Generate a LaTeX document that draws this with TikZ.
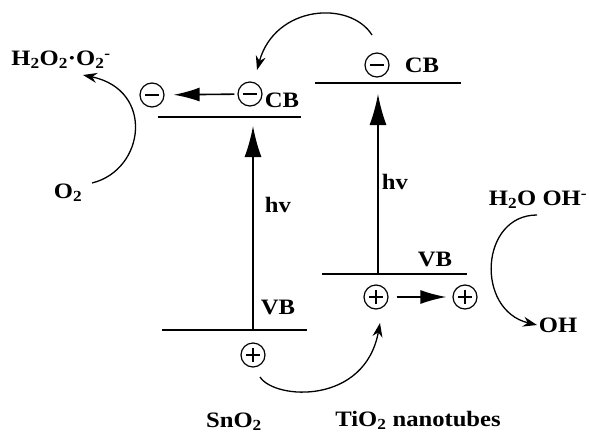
\documentclass[tikz,border=0pt]{standalone}
\usepackage{fontspec}
\setmainfont[FakeStretch=1.12]{Liberation Serif}
\usetikzlibrary{arrows.meta}
\tikzset{
  band/.style={line width=1.7pt},
  pump/.style={line width=1.6pt, -{Latex[length=31pt,width=17pt]}},
  hop/.style={line width=1.6pt, -{Latex[length=26pt,width=14pt]}},
  transfer/.style={line width=1.3pt, -{Stealth[length=14pt,width=10pt]}},
  lbl/.style={font=\fontsize{22}{24}\selectfont\bfseries, inner sep=0pt},
  elec/.style={circle, draw, line width=1.2pt, minimum size=24pt, inner sep=0pt,
    path picture={\draw[line width=1.2pt] ([xshift=-7pt]path picture bounding box.center) -- ([xshift=7pt]path picture bounding box.center);}},
  hole/.style={circle, draw, line width=1.2pt, minimum size=24pt, inner sep=0pt,
    path picture={\draw[line width=1.2pt] ([xshift=-7pt]path picture bounding box.center) -- ([xshift=7pt]path picture bounding box.center)
      ([yshift=-7pt]path picture bounding box.center) -- ([yshift=7pt]path picture bounding box.center);}},
}
\begin{document}
\begin{tikzpicture}[x=1pt,y=-1pt]
  \useasboundingbox (0,0) rectangle (589,434);
  % band edges
  \foreach \name/\xa/\xb/\y in {scb/158/301/117, svb/162/307/330, tcb/315/461/83, tvb/322/467/274}
    \draw[band] (\xa,\y) coordinate (\name l) -- (\xb,\y) coordinate (\name r);
  \coordinate (sup) at (253,117);
  \coordinate (sdn) at (253,330);
  \coordinate (tup) at (378,83);
  \coordinate (tdn) at (378,274);
  \draw[pump, shorten >=9pt] (sdn) -- (sup);
  \draw[pump, shorten >=11pt] (tdn) -- (tup);
  % carriers
  \node[elec] (eleft) at (152,95) {};
  \node[elec] (secb) at (250,94) {};
  \node[elec] (tecb) at (377,65) {};
  \node[hole] (svh) at (253,355) {};
  \node[hole] (tvh) at (376,297) {};
  \node[hole] (tvh2) at (465,297) {};
  \draw[hop, shorten <=3pt, shorten >=9pt] (secb) -- (eleft);
  \draw[hop, shorten <=8pt, shorten >=6pt] (tvh) -- (tvh2);
  % labels
  \node[lbl] (scbt) at (282,100) {CB};
  \node[lbl] (tcbt) at (422,65) {CB};
  \node[lbl] (shv) at (278,205) {hv};
  \node[lbl] (thv) at (395,182) {hv};
  \node[lbl] (svbt) at (278,307) {VB};
  \node[lbl] (tvbt) at (435,259) {VB};
  \node[lbl] (hoo) at (61,60) {H\textsubscript{2}O\textsubscript{2}·O\textsubscript{2}\textsuperscript{-}};
  \node[lbl] (o2) at (68,193) {O\textsubscript{2}};
  \node[lbl] (water) at (538,200) {H\textsubscript{2}O OH\textsuperscript{-}};
  \node[lbl] (oh) at (558,325) {OH};
  \node[lbl] (sno) at (234,422) {SnO\textsubscript{2}};
  \node[lbl] (tio) at (418,420) {TiO\textsubscript{2} nanotubes};
  % transfers
  \draw[transfer] ([shift={(24pt,10pt)}]o2.center) .. controls (145,170) and (155,90) .. ([shift={(22pt,-15pt)}]hoo.center);
  \draw[transfer] ([shift={(-5pt,30pt)}]tecb.center) .. controls (350,0) and (275,5) .. ([shift={(7pt,24pt)}]secb.center);
  \draw[transfer] ([shift={(7pt,-22pt)}]svh.center) .. controls (275,400) and (365,405) .. ([shift={(4pt,-26pt)}]tvh.center);
  \draw[transfer] ([shift={(-1pt,-15pt)}]water.center) .. controls (480,215) and (475,310) .. ([shift={(-21pt,0pt)}]oh.center);
\end{tikzpicture}
\end{document}
